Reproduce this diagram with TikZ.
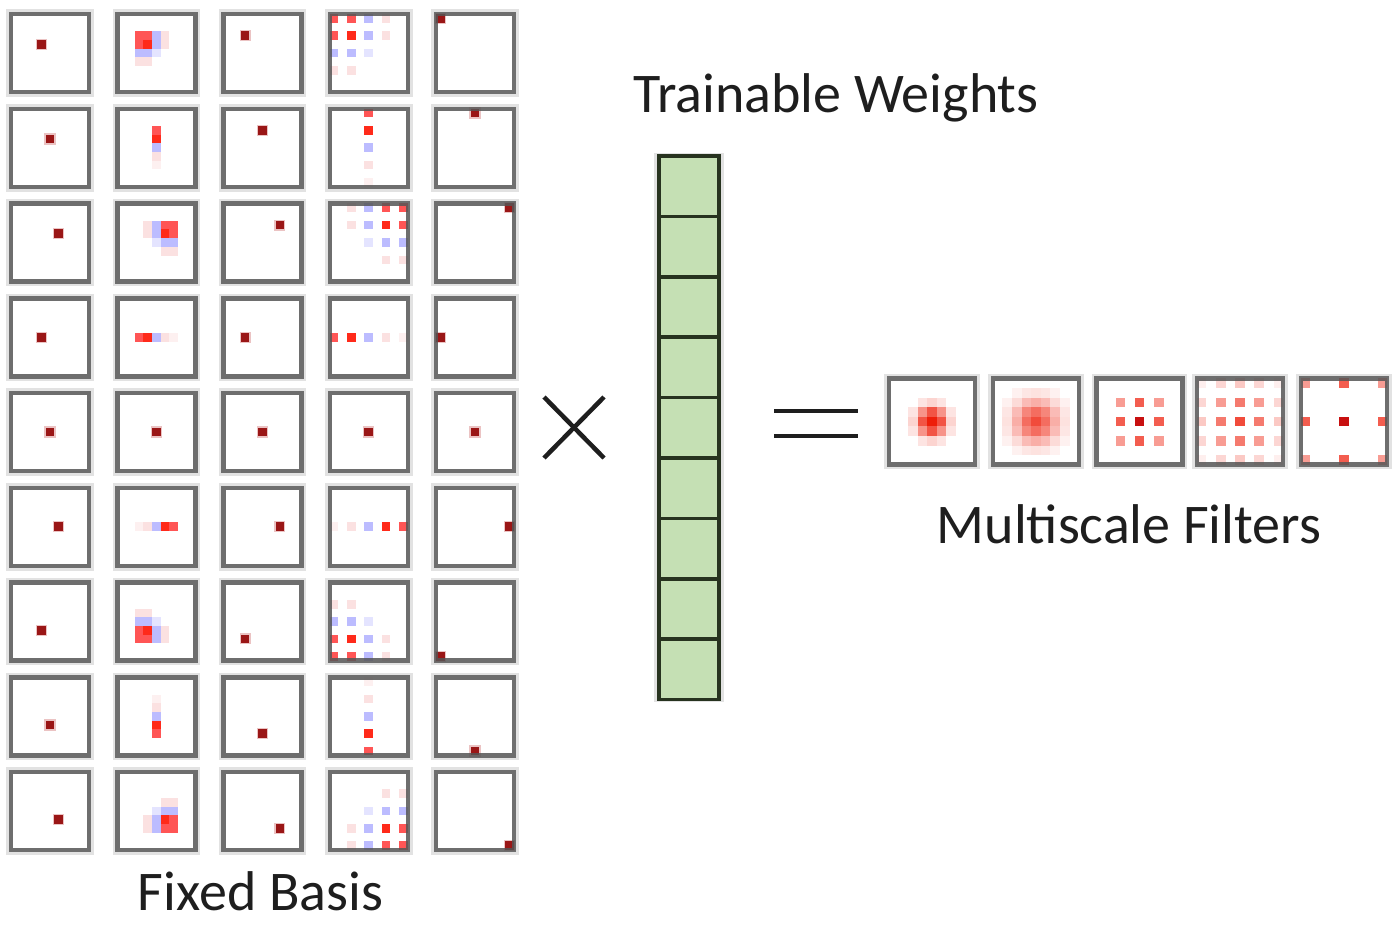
\documentclass[tikz,border=0pt]{standalone}
\usepackage{fontspec}
\setmainfont{Carlito}
\definecolor{core}{HTML}{9A1616}
\definecolor{halo}{HTML}{EBC3C3}
\definecolor{rbright}{HTML}{FF2A1A}
\definecolor{rmid}{HTML}{FF5555}
\definecolor{bluep}{HTML}{BCBCFF}
\definecolor{fblue}{HTML}{E4E4FF}
\definecolor{fpink}{HTML}{FBE1E1}
\definecolor{ffpink}{HTML}{FDF0F0}
\definecolor{frame}{HTML}{555555}
\definecolor{framehalo}{HTML}{E2E2E2}
\definecolor{wfill}{HTML}{C5E0B4}
\definecolor{wline}{HTML}{27331F}
\definecolor{ink}{HTML}{1E1E1E}
\definecolor{fred}{HTML}{EE1E0A}
\definecolor{dred}{HTML}{C81010}

% one pixel: cx cy i j s colour
\newcommand\px[6]{\fill[#6] ({#1+((#3)-0.5)*(#5)},{#2+((#4)-0.5)*(#5)}) rectangle ++(#5,#5);}
% delta: cx cy s i j
\newcommand\delt[5]{%
  \fill[halo] ({#1+((#4)-0.65)*(#3)},{#2+((#5)-0.65)*(#3)}) rectangle ++({1.3*(#3)},{1.3*(#3)});%
  \px{#1}{#2}{#4}{#5}{#3}{core}}
% axis kernel: cx cy s d ux uy
\newcommand\bluraxis[6]{%
  \px{#1}{#2}{-(#4)*(#5)}{-(#4)*(#6)}{#3}{fpink}%
  \px{#1}{#2}{-2*(#4)*(#5)}{-2*(#4)*(#6)}{#3}{ffpink}%
  \px{#1}{#2}{0}{0}{#3}{bluep}%
  \px{#1}{#2}{(#4)*(#5)}{(#4)*(#6)}{#3}{rbright}%
  \px{#1}{#2}{2*(#4)*(#5)}{2*(#4)*(#6)}{#3}{rmid}}
% corner kernel: cx cy s d dx dy
\newcommand\blurcorner[6]{%
  \px{#1}{#2}{0}{0}{#3}{fblue}%
  \px{#1}{#2}{0}{(#4)*(#6)}{#3}{bluep}%
  \px{#1}{#2}{0}{2*(#4)*(#6)}{#3}{bluep}%
  \px{#1}{#2}{(#4)*(#5)}{0}{#3}{bluep}%
  \px{#1}{#2}{2*(#4)*(#5)}{0}{#3}{bluep}%
  \px{#1}{#2}{(#4)*(#5)}{-(#4)*(#6)}{#3}{fpink}%
  \px{#1}{#2}{2*(#4)*(#5)}{-(#4)*(#6)}{#3}{fpink}%
  \px{#1}{#2}{-(#4)*(#5)}{(#4)*(#6)}{#3}{fpink}%
  \px{#1}{#2}{-(#4)*(#5)}{2*(#4)*(#6)}{#3}{fpink}%
  \px{#1}{#2}{(#4)*(#5)}{(#4)*(#6)}{#3}{rbright}%
  \px{#1}{#2}{2*(#4)*(#5)}{(#4)*(#6)}{#3}{rmid}%
  \px{#1}{#2}{(#4)*(#5)}{2*(#4)*(#6)}{#3}{rmid}%
  \px{#1}{#2}{2*(#4)*(#5)}{2*(#4)*(#6)}{#3}{rmid}}
\newcommand\blurk[6]{%
  \ifnum#5=0 \ifnum#6=0 \delt{#1}{#2}{#3}{0}{0}\else\bluraxis{#1}{#2}{#3}{#4}{#5}{#6}\fi
  \else\ifnum#6=0 \bluraxis{#1}{#2}{#3}{#4}{#5}{#6}\else\blurcorner{#1}{#2}{#3}{#4}{#5}{#6}\fi\fi}
% gaussian filter: cx cy s sigma amp
\newcommand\gaussf[5]{%
  \foreach \i in {-4,...,4}{\foreach \j in {-4,...,4}{%
    \pgfmathtruncatemacro\v{min(100,100*#5*exp(-((\i)*(\i)+(\j)*(\j))/(2*#4*#4)))}%
    \ifnum\v>4 \px{#1}{#2}{\i}{\j}{#3}{fred!\v!white}\fi}}}
% dilated filter: cx cy s d sigma amp n
\newcommand\dilf[7]{%
  \foreach \i in {-#7,...,#7}{\foreach \j in {-#7,...,#7}{%
    \pgfmathtruncatemacro\v{min(100,100*#6*exp(-((\i)*(\i)+(\j)*(\j))/(2*#5*#5)))}%
    \ifnum\v>4 \px{#1}{#2}{(#4)*(\i)}{(#4)*(\j)}{#3}{fred!\v!white}\fi}}}

\begin{document}
\begin{tikzpicture}[x=1pt,y=-1pt,
  basisbox/.style={draw=frame, draw opacity=0.85, line width=4.5pt, minimum size=78pt, inner sep=0pt},
  filtbox/.style={draw=frame, draw opacity=0.85, line width=4.5pt, minimum size=86pt, inner sep=0pt},
  framehalo/.style={draw=framehalo, line width=2.5pt},
  wcell/.style={draw=wline, fill=wfill, line width=3.5pt, minimum width=60pt, minimum height=60.4pt, inner sep=0pt},
  lbl/.style={font=\fontsize{56}{60}\selectfont, text=ink, inner sep=0pt},
  sym/.style={draw=ink, line width=4.5pt}]
\fill[white] (0,0) rectangle (1396,926);
\useasboundingbox (0,0) rectangle (1396,926);

% ---- fixed basis
\foreach \r/\dx/\dy in {1/-1/-1,2/0/-1,3/1/-1,4/-1/0,5/0/0,6/1/0,7/-1/1,8/0/1,9/1/1}{
  \pgfmathsetmacro\cy{53+(\r-1)*94.75}
  \foreach \c in {1,...,5}{
    \pgfmathsetmacro\cx{50+(\c-1)*106.25}
    \draw[framehalo] ({\cx-42.5},{\cy-42.5}) rectangle ({\cx+42.5},{\cy+42.5});
  }
  \delt{50}{\cy}{8.67}{\dx}{\dy}
  \blurk{156.25}{\cy}{8.67}{1}{\dx}{\dy}
  \delt{262.5}{\cy}{8.67}{2*(\dx)}{2*(\dy)}
  \blurk{368.75}{\cy}{8.67}{2}{\dx}{\dy}
  \delt{475}{\cy}{8.67}{4*(\dx)}{4*(\dy)}
  \foreach \c in {1,...,5}{
    \pgfmathsetmacro\cx{50+(\c-1)*106.25}
    \node[basisbox] (b\r\c) at (\cx,\cy) {};
  }
}

% ---- trainable weights
\draw[draw=framehalo, line width=2.5pt] (655.5,154) rectangle (722.5,701);
\foreach \k in {1,...,9}
  \node[wcell] (w\k) at (689,{156+(\k-0.5)*60.4}) {};

% ---- operators
\draw[sym] (544,397) -- (604,458);
\draw[sym] (604,397) -- (544,458);
\draw[sym] (774,411) -- (858,411);
\draw[sym] (774,436) -- (858,436);

% ---- multiscale filters
\foreach \x in {932,1036,1139.5,1240,1344}
  \draw[framehalo] ({\x-46.5},{421.5-46.5}) rectangle ({\x+46.5},{421.5+46.5});
\gaussf{932}{421.5}{9.6}{1.05}{1.2}
\gaussf{1036}{421.5}{9.6}{1.6}{0.8}
\dilf{1139.5}{421.5}{9.6}{2}{1.0}{1.2}{1}
\px{1139.5}{421.5}{0}{0}{9.6}{dred}
\dilf{1240}{421.5}{9.6}{2}{1.3}{0.8}{2}
\dilf{1344}{421.5}{9.6}{4}{1.0}{1.2}{1}
\px{1344}{421.5}{0}{0}{9.6}{dred}
\node[filtbox] (m1) at (932,421.5) {};
\node[filtbox] (m2) at (1036,421.5) {};
\node[filtbox] (m3) at (1139.5,421.5) {};
\node[filtbox] (m4) at (1240,421.5) {};
\node[filtbox] (m5) at (1344,421.5) {};

% ---- labels
\node[lbl, anchor=base] (tw) at (836,112) {Trainable Weights};
\node[lbl, anchor=base] (fb) at (260.5,910) {Fixed Basis};
\node[lbl, anchor=base] (mf) at (1129,543) {Multiscale Filters};
\end{tikzpicture}
\end{document}
